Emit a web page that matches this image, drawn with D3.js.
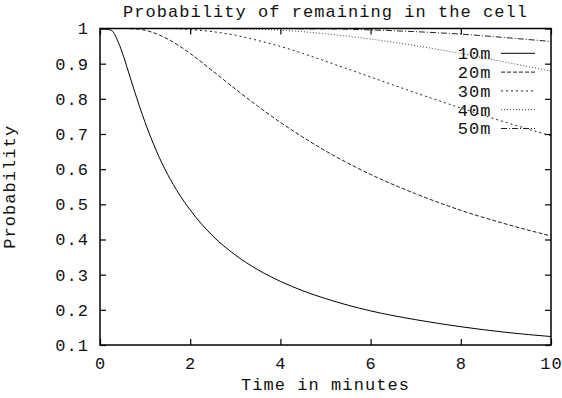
<!DOCTYPE html>
<html>
<head>
<meta charset="utf-8">
<script src="https://cdn.jsdelivr.net/npm/d3@7"></script>
<style>
    body { margin: 0; background: #fff; }
    text { font-family: "Liberation Mono", "DejaVu Sans Mono", monospace; fill: #111; }
</style>
</head>
<body>
<div id="chart"></div>
<script>
// ---- Data ----
const times = [0, 0.25, 0.375, 0.5, 0.625, 0.75, 0.875, 1, 1.25, 1.5, 1.75, 2, 2.5, 3, 3.5, 4, 4.5, 5, 6, 7, 8, 9, 10];

const p10m = [1, 0.995, 0.970, 0.929, 0.879, 0.828, 0.779, 0.733, 0.652, 0.585, 0.530, 0.484, 0.410, 0.356, 0.314, 0.281, 0.254, 0.232, 0.197, 0.172, 0.152, 0.136, 0.124];
const p20m = [1, 1, 1, 1, 1, 0.999, 0.998, 0.995, 0.985, 0.970, 0.951, 0.929, 0.879, 0.828, 0.779, 0.733, 0.691, 0.652, 0.585, 0.530, 0.483, 0.444, 0.410];
const p30m = [1, 1, 1, 1, 1, 1, 1, 1, 1, 1, 0.999, 0.997, 0.991, 0.981, 0.966, 0.949, 0.929, 0.907, 0.862, 0.817, 0.774, 0.733, 0.695];
const p40m = [1, 1, 1, 1, 1, 1, 1, 1, 1, 1, 1, 1, 1, 0.999, 0.998, 0.995, 0.991, 0.985, 0.970, 0.951, 0.929, 0.904, 0.879];
const p50m = [1, 1, 1, 1, 1, 1, 1, 1, 1, 1, 1, 1, 1, 1, 1, 1, 0.999, 0.999, 0.996, 0.991, 0.984, 0.974, 0.963];

const seriesNames = ["10m", "20m", "30m", "40m", "50m"];
const seriesValues = [p10m, p20m, p30m, p40m, p50m];

const xTicks = [0, 2, 4, 6, 8, 10];
const yTicks = [0.1, 0.2, 0.3, 0.4, 0.5, 0.6, 0.7, 0.8, 0.9, 1];

// gnuplot-like dash types
const dashes = [null, "4,2", "2,3", "1,2", "6,2,1,2"];
const strokes = ["#000", "#222", "#222", "#444", "#222"];

// ---- Layout ----
const W = 562, H = 398;
const margin = { top: 28.5, right: 11, bottom: 53, left: 100 };
const width = W - margin.left - margin.right;
const height = H - margin.top - margin.bottom;
const fontSize = 17;
const spacing = "1.05px";

const svg = d3.select("#chart").append("svg")
    .attr("width", W)
    .attr("height", H);

const g = svg.append("g")
    .attr("transform", `translate(${margin.left}, ${margin.top})`);

// ---- Scales ----
const x = d3.scaleLinear().domain([0, 10]).range([0, width]);
const y = d3.scaleLinear().domain([0.1, 1]).range([height, 0]);

// ---- Axes (ticks inward, mirrored) ----
const tick = 6;

const axisB = g.append("g")
    .attr("transform", `translate(0, ${height})`)
    .call(d3.axisBottom(x).tickValues(xTicks).tickSizeInner(-tick).tickSizeOuter(0));

const axisL = g.append("g")
    .call(d3.axisLeft(y).tickValues(yTicks).tickSizeInner(-tick).tickSizeOuter(0).tickPadding(11)
        .tickFormat(d => d === 1 ? "1" : d3.format(".1f")(d)));

const axisT = g.append("g")
    .call(d3.axisTop(x).tickValues(xTicks).tickSizeInner(-tick).tickSizeOuter(0).tickFormat(""));

const axisR = g.append("g")
    .attr("transform", `translate(${width}, 0)`)
    .call(d3.axisRight(y).tickValues(yTicks).tickSizeInner(-tick).tickSizeOuter(0).tickFormat(""));

[axisB, axisL, axisT, axisR].forEach(a => {
    a.select(".domain").remove();
    a.selectAll("line").attr("stroke", "#000").attr("stroke-width", 1.2);
    a.selectAll("text")
        .style("font-size", fontSize + "px")
        .style("letter-spacing", spacing)
        .attr("fill", "#111")
        .style("font-family", '"Liberation Mono", monospace');
});

axisB.selectAll("text").attr("y", 24.3).attr("dy", 0);

// ---- Curves ----
const line = d3.line()
    .x((d, i) => x(times[i]))
    .y(d => y(d))
    .curve(d3.curveMonotoneX);

g.append("g")
    .selectAll("path")
    .data(seriesValues)
    .enter()
    .append("path")
    .attr("d", d => line(d))
    .attr("fill", "none")
    .attr("stroke", (d, i) => strokes[i])
    .attr("stroke-width", 1)
    .attr("stroke-dasharray", (d, i) => dashes[i]);

// border box
g.append("rect")
    .attr("width", width)
    .attr("height", height)
    .attr("fill", "none")
    .attr("stroke", "#000")
    .attr("stroke-width", 1.5);

// ---- Legend ----
const legend = g.append("g")
    .attr("transform", `translate(${width - 59.5}, 24.8)`);

const row = legend.selectAll("g")
    .data(seriesNames)
    .enter()
    .append("g")
    .attr("transform", (d, i) => `translate(0, ${i * 18.8})`);

row.append("text")
    .attr("x", 0)
    .attr("dy", "0.35em")
    .attr("text-anchor", "end")
    .style("font-size", fontSize + "px")
    .style("letter-spacing", spacing)
    .text(d => d);

row.append("line")
    .attr("x1", 9.5)
    .attr("x2", 43.5)
    .attr("stroke", (d, i) => strokes[i])
    .attr("stroke-width", 1)
    .attr("stroke-dasharray", (d, i) => dashes[i]);

// ---- Titles ----
svg.append("text")
    .attr("x", margin.left + width / 2)
    .attr("y", 16.7)
    .attr("text-anchor", "middle")
    .style("font-size", fontSize + "px")
    .style("letter-spacing", spacing)
    .text("Probability of remaining in the cell");

svg.append("text")
    .attr("x", margin.left + width / 2)
    .attr("y", 390)
    .attr("text-anchor", "middle")
    .style("font-size", fontSize + "px")
    .style("letter-spacing", spacing)
    .text("Time in minutes");

svg.append("text")
    .attr("transform", "rotate(-90)")
    .attr("x", -(margin.top + height / 2))
    .attr("y", 15)
    .attr("text-anchor", "middle")
    .style("font-size", fontSize + "px")
    .style("letter-spacing", spacing)
    .text("Probability");
</script>
</body>
</html>
